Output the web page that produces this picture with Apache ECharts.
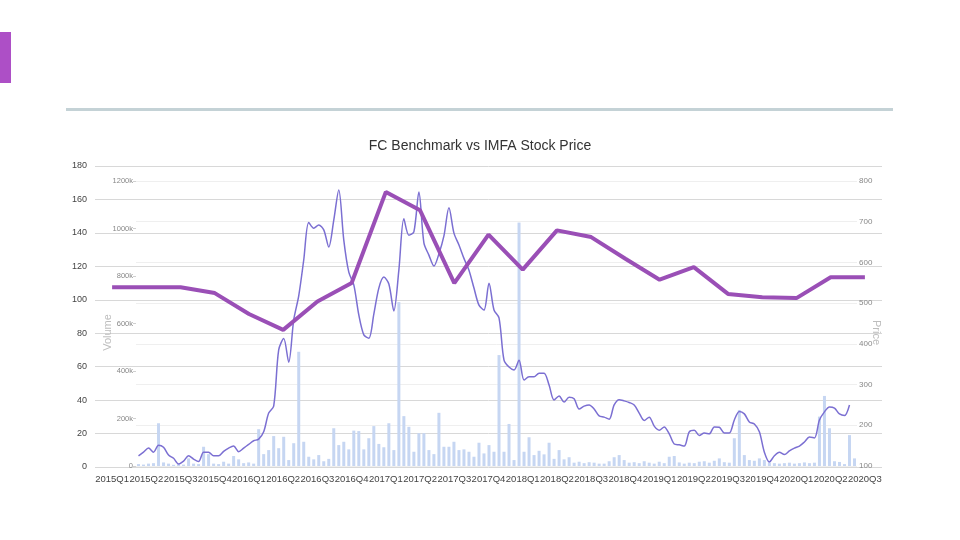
<!DOCTYPE html>
<html>
<head>
<meta charset="utf-8">
<style>
  html, body { margin: 0; padding: 0; background: #fff; }
  #main { width: 960px; height: 540px; }
</style>
<script src="https://cdn.jsdelivr.net/npm/echarts@6/dist/echarts.min.js"></script>
</head>
<body>
<div id="main"></div>
<script>
// outer chart: FC benchmark by quarter
var quarters = ["2015Q1", "2015Q2", "2015Q3", "2015Q4", "2016Q1", "2016Q2", "2016Q3", "2016Q4",
  "2017Q1", "2017Q2", "2017Q3", "2017Q4", "2018Q1", "2018Q2", "2018Q3", "2018Q4",
  "2019Q1", "2019Q2", "2019Q3", "2019Q4", "2020Q1", "2020Q2", "2020Q3"];
var benchmark = [107.5, 107.5, 107.5, 104, 91.5, 82, 99, 110, 164.5, 153.5, 110, 139, 118,
  141.5, 137.5, 124.5, 112, 119.5, 103.5, 101.5, 101, 113.5, 113.5];

// inner chart: IMFA stock, one point per period
var price = [125, 134, 144, 134, 151, 146, 127, 119, 105, 112, 125, 117, 111, 134, 134, 125,
  125, 136, 144, 149, 135, 144, 153, 162, 166, 184, 230, 247, 385, 413, 355, 459,
  518, 606, 698, 684, 692, 680, 638, 704, 778, 655, 576, 545, 471, 422, 414, 473,
  537, 564, 547, 481, 581, 707, 667, 675, 773, 648, 618, 591, 621, 665, 734, 672,
  643, 610, 581, 537, 495, 483, 549, 483, 464, 360, 343, 336, 360, 311, 319, 319,
  328, 328, 299, 262, 272, 257, 269, 265, 240, 247, 250, 240, 223, 220, 215, 250,
  263, 260, 256, 250, 230, 212, 220, 198, 188, 196, 179, 154, 152, 149, 184, 188,
  175, 181, 179, 196, 195, 181, 181, 213, 234, 228, 208, 203, 184, 134, 110, 125,
  134, 128, 137, 144, 149, 159, 171, 169, 213, 233, 245, 242, 228, 224, 250];
var volume = [8, 6, 10, 12, 180, 15, 10, 5, 8, 6, 32, 10, 8, 81, 50, 10,
  8, 18, 10, 42, 28, 12, 15, 10, 155, 50, 67, 126, 75, 123, 25, 96,
  481, 102, 39, 28, 46, 20, 30, 159, 88, 102, 70, 149, 147, 70, 117, 168,
  93, 79, 180, 67, 690, 210, 165, 60, 138, 138, 67, 50, 224, 81, 81, 102,
  67, 70, 60, 39, 98, 53, 88, 60, 467, 60, 177, 25, 1025, 60, 121, 46,
  64, 49, 98, 30, 67, 28, 37, 14, 18, 12, 16, 14, 10, 10, 20, 37,
  46, 25, 14, 16, 12, 20, 14, 10, 18, 12, 39, 42, 15, 10, 14, 12,
  18, 20, 14, 22, 32, 16, 14, 117, 236, 46, 25, 22, 32, 25, 14, 12,
  10, 12, 14, 10, 12, 15, 12, 14, 208, 295, 159, 20, 17, 8, 130, 32];
var periods = volume.map(function (v, i) { return "p" + i; });

var font = "'Liberation Sans', Arial, sans-serif";

var chart = echarts.init(document.getElementById("main"), null, { renderer: "canvas" });
chart.setOption({
  animation: false,
  backgroundColor: "#ffffff",
  textStyle: { fontFamily: font },
  title: {
    text: "FC Benchmark vs IMFA Stock Price",
    left: "center",
    top: 139,
    padding: 0,
    textStyle: { fontSize: 14, fontWeight: "normal", color: "#333", fontFamily: font }
  },
  graphic: [
    { type: "rect", left: 0, top: 32, shape: { width: 11, height: 51 }, style: { fill: "#ad4fc6" } },
    { type: "rect", left: 66, top: 108, shape: { width: 827, height: 3 }, style: { fill: "#c4d2d6" } }
  ],
  grid: [
    { left: 95, right: 78, top: 166, bottom: 73 },
    { left: 136, right: 103, top: 181, bottom: 74 }
  ],
  xAxis: [
    {
      type: "category",
      gridIndex: 0,
      data: quarters,
      boundaryGap: true,
      axisLine: { show: false },
      axisTick: { show: false },
      axisLabel: { interval: 0, margin: 7, fontSize: 9.5, color: "#444", fontFamily: font }
    },
    {
      type: "category",
      gridIndex: 1,
      data: periods,
      boundaryGap: true,
      show: false
    }
  ],
  yAxis: [
    {
      type: "value",
      gridIndex: 0,
      min: 0,
      max: 180,
      interval: 20,
      axisLine: { show: false },
      axisTick: { show: false },
      axisLabel: { margin: 8, fontSize: 9, color: "#444", fontFamily: font },
      splitLine: { lineStyle: { color: "#d8d8d8", width: 1 } }
    },
    {
      type: "value",
      gridIndex: 1,
      position: "left",
      min: 0,
      max: 1200,
      interval: 200,
      name: "Volume",
      nameLocation: "middle",
      nameGap: 23,
      nameMoveOverlap: false,
      nameRotate: 90,
      nameTextStyle: { color: "#bdbdbd", fontSize: 11, fontFamily: font, padding: [0, 18, 0, 0] },
      axisLine: { show: false },
      axisTick: { show: true, length: 3, lineStyle: { color: "#d0d0d0" } },
      axisLabel: {
        margin: 3, fontSize: 7.5, color: "#888", fontFamily: font,
        formatter: function (v) { return v + (v ? "k" : ""); }
      },
      splitLine: { show: false }
    },
    {
      type: "value",
      gridIndex: 1,
      position: "right",
      min: 100,
      max: 800,
      interval: 100,
      name: "Price",
      nameLocation: "middle",
      nameGap: 14,
      nameMoveOverlap: false,
      nameRotate: -90,
      nameTextStyle: { color: "#bdbdbd", fontSize: 11, fontFamily: font, padding: [0, 0, 0, 18] },
      axisLine: { show: false },
      axisTick: { show: false },
      axisLabel: { margin: 2, fontSize: 8, color: "#888", fontFamily: font },
      splitLine: { lineStyle: { color: "#efefef", width: 1 } }
    }
  ],
  series: [
    {
      name: "Volume",
      type: "bar",
      xAxisIndex: 1,
      yAxisIndex: 1,
      data: volume,
      barWidth: 3,
      itemStyle: { color: "#c6d6f2" },
      z: 1
    },
    {
      name: "Price",
      type: "line",
      xAxisIndex: 1,
      yAxisIndex: 2,
      data: price,
      smooth: 0.3,
      showSymbol: false,
      lineStyle: { color: "#7b6fd2", width: 1.5 },
      z: 2
    },
    {
      name: "FC Benchmark",
      type: "line",
      xAxisIndex: 0,
      yAxisIndex: 0,
      data: benchmark,
      showSymbol: false,
      lineStyle: { color: "#9a4fb6", width: 4 },
      z: 3
    }
  ]
});
</script>
</body>
</html>
